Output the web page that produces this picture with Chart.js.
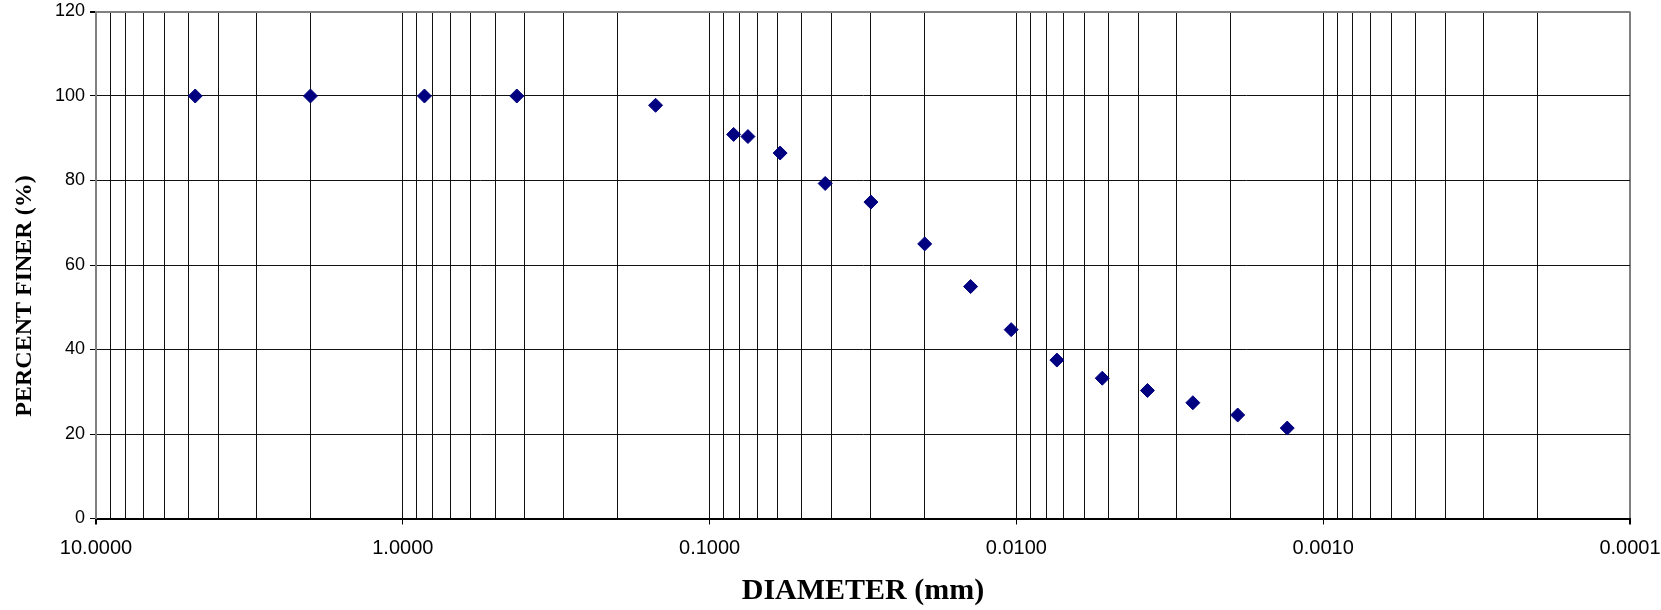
<!DOCTYPE html>
<html>
<head>
<meta charset="utf-8">
<script src="https://cdn.jsdelivr.net/npm/chart.js@4/dist/chart.umd.min.js"></script>
<style>
  html, body { margin: 0; padding: 0; background: #fff; }
  canvas { display: block; }
</style>
</head>
<body>
<canvas id="chart" width="1661" height="610"></canvas>
<script>
var diameters = [4.75, 2.0, 0.85, 0.425, 0.15, 0.0835, 0.075, 0.0589, 0.0420, 0.0298,
  0.0199, 0.0141, 0.0104, 0.00738, 0.00525, 0.00374, 0.00266, 0.00190, 0.00131];
var percentFiner = [100, 100, 100, 100, 97.8, 90.9, 90.4, 86.5, 79.3, 74.9,
  65.0, 54.9, 44.7, 37.5, 33.2, 30.3, 27.4, 24.5, 21.4];
var decades = [10, 1, 0.1, 0.01, 0.001, 0.0001];
var decadeLabels = ['10.0000', '1.0000', '0.1000', '0.0100', '0.0010', '0.0001'];
var yTicks = [0, 20, 40, 60, 80, 100, 120];

(function () {
  var points = diameters.map(function (d, i) {
    return { x: d, y: percentFiner[i] };
  });

  // log grid: every 1..9 x 10^n between the decades
  var gridValues = [];
  decades.forEach(function (d) {
    if (d === 10) return;
    for (var m = 1; m <= 9; m++) gridValues.push(m * d);
  });
  gridValues.push(10);

  function decadeIndex(v) {
    for (var i = 0; i < decades.length; i++) {
      if (Math.abs(v - decades[i]) < decades[i] * 1e-6) return i;
    }
    return -1;
  }

  var yTitle = {
    id: 'yTitle',
    afterDraw: function (chart) {
      var ctx = chart.ctx;
      ctx.save();
      ctx.translate(31, 296);
      ctx.rotate(-Math.PI / 2);
      ctx.font = 'bold 24px "Liberation Serif", "Times New Roman", serif';
      ctx.fillStyle = '#000';
      ctx.textAlign = 'center';
      ctx.textBaseline = 'alphabetic';
      ctx.fillText('PERCENT FINER (%)', 0, 0);
      ctx.restore();
    }
  };

  var sans = '"Liberation Sans", Arial, sans-serif';

  new Chart(document.getElementById('chart'), {
    type: 'scatter',
    data: {
      datasets: [
        {
          data: points,
          pointStyle: 'rectRot',
          pointRadius: 7,
          pointBackgroundColor: '#000080',
          pointBorderColor: '#000080',
          pointBorderWidth: 1,
          showLine: false,
        }
      ]
    },
    options: {
      responsive: false,
      animation: false,
      devicePixelRatio: 1,
      layout: {
        padding: { left: 0, right: 31, top: 11.5, bottom: 0 },
      },
      plugins: {
        legend: { display: false },
        tooltip: { enabled: false },
      },
      scales: {
        x: {
          type: 'logarithmic',
          reverse: true,
          min: 0.0001,
          max: 10,
          afterBuildTicks: function (scale) {
            scale.ticks = gridValues.map(function (v) { return { value: v }; });
          },
          afterFit: function (scale) {
            scale.height = 91.5;
          },
          ticks: {
            autoSkip: false,
            maxRotation: 0,
            padding: 12,
            color: '#000',
            font: { family: sans, size: 20 },
            callback: function (value) {
              var i = decadeIndex(value);
              return i < 0 ? '' : decadeLabels[i];
            },
          },
          grid: {
            color: function (ctx) {
              var v = ctx.tick ? ctx.tick.value : 0;
              if (decadeIndex(v) === 0 || decadeIndex(v) === 5) return '#808080';
              return '#111';
            },
            lineWidth: function (ctx) {
              var v = ctx.tick ? ctx.tick.value : 0;
              if (decadeIndex(v) === 0 || decadeIndex(v) === 5) return 2;
              return 1;
            },
            tickLength: 6,
            tickColor: function (ctx) {
              var v = ctx.tick ? ctx.tick.value : 0;
              return decadeIndex(v) < 0 ? 'rgba(0,0,0,0)' : '#000';
            },
          },
          border: { color: '#000', width: 2 },
          title: {
            display: true,
            text: 'DIAMETER (mm)',
            color: '#000',
            font: { family: '"Liberation Serif", "Times New Roman", serif', size: 30, weight: 'bold' },
            padding: { top: 0, bottom: 1 },
          },
        },
        y: {
          min: 0,
          max: 120,
          afterBuildTicks: function (scale) {
            scale.ticks = yTicks.map(function (v) { return { value: v }; });
          },
          afterFit: function (scale) {
            scale.width = 96;
            scale.paddingTop = 0;
            scale.paddingBottom = 0;
          },
          ticks: {
            padding: 5,
            color: '#000',
            font: { family: sans, size: 18 },
          },
          grid: {
            color: function (ctx) {
              return ctx.tick && ctx.tick.value === 120 ? '#808080' : '#111';
            },
            lineWidth: function (ctx) {
              return ctx.tick && ctx.tick.value === 120 ? 2 : 1;
            },
            tickLength: 6,
            tickColor: '#000',
          },
          border: { color: '#808080', width: 2 },
        },
      },
    },
    plugins: [yTitle],
  });
})();
</script>
</body>
</html>
